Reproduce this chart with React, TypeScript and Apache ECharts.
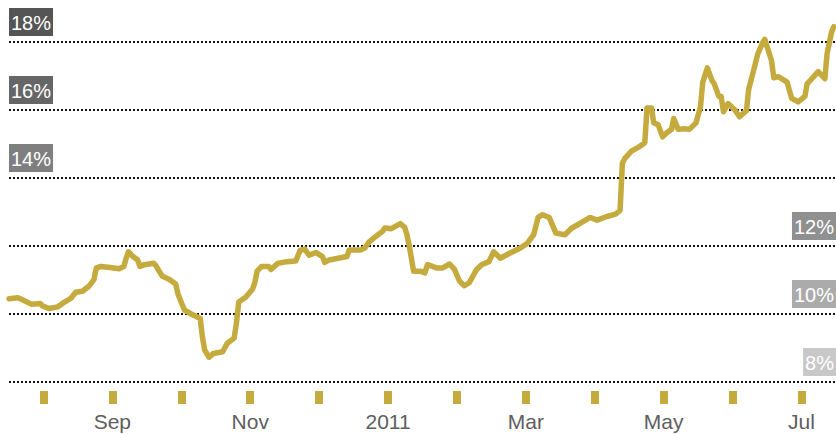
import React, { useEffect, useRef } from "react";
import * as echarts from "echarts";

// Month axis (ticks at month centres)
const monthCategories = ["Aug", "Sep", "Oct", "Nov", "Dec", "2011", "Feb", "Mar", "Apr", "May", "Jun", "Jul"];

// Y gridlines / tag labels
const yTicks = [8, 10, 12, 14, 16, 18];
const yTickSides = ["right", "right", "right", "left", "left", "left"];
const yTickColors = ["#c8c8c8", "#ababab", "#909090", "#7f7f7f", "#666666", "#555555"];

// Series: dates and rates (%)
const dates = [
  "2010-08-01", "2010-08-05", "2010-08-07", "2010-08-11", "2010-08-15", "2010-08-16", "2010-08-19", "2010-08-23", "2010-08-26", "2010-08-29", "2010-08-31",
  "2010-09-03", "2010-09-06", "2010-09-08", "2010-09-09", "2010-09-11", "2010-09-15", "2010-09-19", "2010-09-21", "2010-09-22", "2010-09-23", "2010-09-25", "2010-09-27", "2010-09-28", "2010-09-30",
  "2010-10-04", "2010-10-05", "2010-10-07", "2010-10-08", "2010-10-11", "2010-10-14", "2010-10-15", "2010-10-17", "2010-10-18", "2010-10-21", "2010-10-25", "2010-10-26", "2010-10-27", "2010-10-29", "2010-10-31",
  "2010-11-04", "2010-11-06", "2010-11-09", "2010-11-10", "2010-11-11", "2010-11-14", "2010-11-17", "2010-11-18", "2010-11-19", "2010-11-21", "2010-11-24", "2010-11-25", "2010-11-28",
  "2010-12-02", "2010-12-06", "2010-12-08", "2010-12-10", "2010-12-12", "2010-12-15", "2010-12-18", "2010-12-19", "2010-12-21", "2010-12-25", "2010-12-29", "2010-12-30",
  "2011-01-04", "2011-01-06", "2011-01-08", "2011-01-11", "2011-01-14", "2011-01-15", "2011-01-18", "2011-01-22", "2011-01-24", "2011-01-25", "2011-01-26", "2011-01-27", "2011-01-28", "2011-01-31",
  "2011-02-02", "2011-02-03", "2011-02-07", "2011-02-09", "2011-02-12", "2011-02-14", "2011-02-16", "2011-02-18", "2011-02-20", "2011-02-23", "2011-02-25", "2011-02-28",
  "2011-03-02", "2011-03-05", "2011-03-09", "2011-03-14", "2011-03-17", "2011-03-20", "2011-03-22", "2011-03-24", "2011-03-27", "2011-03-30",
  "2011-04-03", "2011-04-06", "2011-04-09", "2011-04-14", "2011-04-17", "2011-04-21", "2011-04-25", "2011-04-27", "2011-04-28", "2011-04-29",
  "2011-05-02", "2011-05-05", "2011-05-08", "2011-05-09", "2011-05-11", "2011-05-12", "2011-05-14", "2011-05-16", "2011-05-18", "2011-05-20", "2011-05-21", "2011-05-23", "2011-05-26", "2011-05-28", "2011-05-31",
  "2011-06-02", "2011-06-03", "2011-06-05", "2011-06-07", "2011-06-08", "2011-06-10", "2011-06-11", "2011-06-12", "2011-06-14", "2011-06-17", "2011-06-19", "2011-06-22", "2011-06-23", "2011-06-25", "2011-06-27", "2011-06-29", "2011-06-30",
  "2011-07-02", "2011-07-03", "2011-07-04", "2011-07-06", "2011-07-10", "2011-07-12", "2011-07-15", "2011-07-18", "2011-07-19", "2011-07-22", "2011-07-24", "2011-07-27", "2011-07-28", "2011-07-30", "2011-07-31",
];

const rates = [
  10.45, 10.48, 10.42, 10.29, 10.31, 10.24, 10.16, 10.21, 10.35, 10.47, 10.64,
  10.67, 10.83, 11.02, 11.35, 11.40, 11.37, 11.33, 11.40, 11.64, 11.83, 11.69, 11.59, 11.40, 11.45,
  11.49, 11.43, 11.21, 11.11, 11.02, 10.88, 10.59, 10.26, 10.11, 10.00, 9.87, 9.33, 8.94, 8.73, 8.84,
  8.89, 9.14, 9.29, 9.73, 10.35, 10.49, 10.73, 10.92, 11.26, 11.40, 11.40, 11.31, 11.49,
  11.54, 11.56, 11.88, 11.91, 11.73, 11.81, 11.69, 11.52, 11.59, 11.64, 11.69, 11.88,
  11.88, 11.94, 12.12, 12.28, 12.43, 12.53, 12.51, 12.66, 12.55, 12.33, 12.02, 11.64, 11.26, 11.26,
  11.21, 11.45, 11.35, 11.35, 11.47, 11.31, 10.97, 10.83, 10.92, 11.31, 11.45, 11.54,
  11.83, 11.64, 11.78, 11.94, 12.07, 12.33, 12.84, 12.92, 12.84, 12.38,
  12.33, 12.53, 12.64, 12.84, 12.76, 12.86, 12.94, 13.05, 14.43, 14.57,
  14.79, 14.90, 15.04, 16.06, 16.06, 15.62, 15.57, 15.21, 15.34, 15.43, 15.75, 15.43, 15.45, 15.43, 15.62,
  16.09, 16.82, 17.24, 16.87, 16.77, 16.40, 16.40, 15.95, 16.19, 16.00, 15.80, 15.98, 16.61, 17.13, 17.66, 17.97, 18.08,
  17.66, 17.45, 16.95, 16.98, 16.82, 16.35, 16.24, 16.40, 16.77, 16.98, 17.13, 16.92, 17.66, 18.29, 18.45,
];

const GOLD = "#c5aa3e";
const FONT = "'Liberation Sans', Arial, Helvetica, sans-serif";

// Fractional month position (0 = start of Aug 2010)
function monthPos(s: string): number {
  const [y, m, d] = s.split("-").map(Number);
  const dim = new Date(y, m, 0).getDate();
  return (y - 2010) * 12 + (m - 8) + (d - 1) / dim;
}

export default function App() {
  const ref = useRef<HTMLDivElement>(null);

  useEffect(() => {
    if (!ref.current) return;
    const chart = echarts.init(ref.current, null, { renderer: "svg" });
    const lineData = dates.map((d, i) => [monthPos(d), rates[i]]);

    chart.setOption({
      animation: false,
      backgroundColor: "#ffffff",
      grid: { left: 9, right: 0, top: 42, bottom: 52, containLabel: false },
      xAxis: [
        {
          type: "category",
          data: monthCategories,
          position: "bottom",
          offset: 9,
          boundaryGap: true,
          axisLine: { show: false },
          axisTick: {
            show: true,
            alignWithLabel: true,
            interval: 0,
            length: 13,
            lineStyle: { color: GOLD, width: 8 },
          },
          axisLabel: {
            interval: (i: number) => i % 2 === 1,
            margin: 20,
            color: "#5e5e5e",
            fontSize: 21,
            fontFamily: FONT,
          },
          splitLine: { show: false },
        },
        {
          type: "value",
          min: 0,
          max: 12,
          show: false,
        },
      ],
      yAxis: {
        type: "value",
        min: 8,
        max: 18,
        interval: 2,
        axisLine: { show: false },
        axisTick: { show: false },
        axisLabel: { show: false },
        splitLine: {
          show: true,
          lineStyle: { color: "#111111", width: 2, type: [2, 2] },
        },
      },
      series: [
        {
          type: "line",
          xAxisIndex: 1,
          data: lineData,
          showSymbol: false,
          symbol: "none",
          clip: false,
          lineStyle: { color: GOLD, width: 5.5, join: "round", cap: "round" },
          z: 3,
        },
        {
          type: "custom",
          xAxisIndex: 1,
          clip: false,
          data: yTicks.map((v) => [0, v]),
          renderItem: (params: any, api: any) => {
            const v = api.value(1);
            const idx = params.dataIndex;
            const pt = api.coord([0, v]);
            const cs = params.coordSys;
            const left = yTickSides[idx] === "left";
            return {
              type: "text",
              x: left ? cs.x : cs.x + cs.width,
              y: pt[1] - 6,
              z2: 10,
              style: {
                text: v + "%",
                fill: "#ffffff",
                fontSize: 20,
                fontFamily: FONT,
                backgroundColor: yTickColors[idx],
                padding: [5, 2, 3, 2],
                align: left ? "left" : "right",
                verticalAlign: "bottom",
              },
            };
          },
          z: 4,
        },
      ],
    });

    return () => chart.dispose();
  }, []);

  return (
    <div
      ref={ref}
      style={{ position: "fixed", left: 0, top: 0, width: 836, height: 434, background: "#fff" }}
    />
  );
}
